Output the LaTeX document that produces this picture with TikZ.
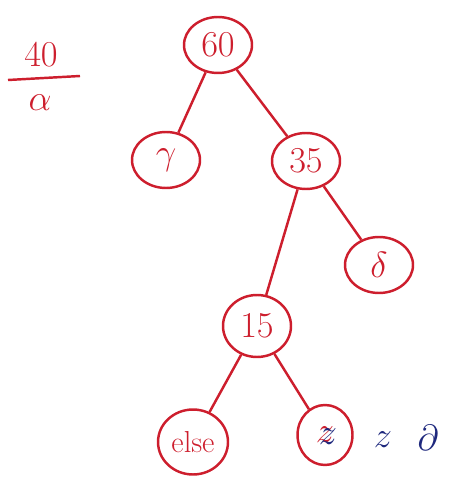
\documentclass[tikz,border=0pt]{standalone}
\usepackage{amsmath, amssymb}
\usepackage{tikz}
\usetikzlibrary{shapes.geometric}
\definecolor{penred}{RGB}{205,30,45}
\definecolor{penblue}{RGB}{30,40,125}

\begin{document}
\begin{tikzpicture}[x=0.02cm,y=-0.02cm,
    knot/.style={ellipse,draw=penred,line width=1.4pt,text=penred,minimum width=1.36cm,minimum height=1.12cm,inner sep=0pt,font=\huge},
    twig/.style={penred,line width=1.4pt}]
    \useasboundingbox (0,0) rectangle (457,496);
    % fraction at the top left
    \node[text=penred,font=\huge] (num) at (41,55) {$40$};
    \draw[twig] (8,80) -- (80,76);
    \node[text=penred,font=\huge] (den) at (40,103) {$\alpha$};
    % the tree
    \node[knot] (n60) at (218,45) {$60$};
    \node[knot] (ng) at (166,160) {$\gamma$};
    \node[knot] (n35) at (306,161) {$35$};
    \node[knot] (nd) at (379,265) {$\delta$};
    \node[knot,minimum height=1.24cm] (n15) at (257,326) {$15$};
    \node[knot,minimum width=1.4cm,minimum height=1.3cm,font=\LARGE] (nelse) at (193,442) {else};
    \node[knot,minimum width=1.1cm,minimum height=1.2cm] (nz) at (325,435) {$z$};
    \draw[twig] (n60) -- (ng);
    \draw[twig] (n60) -- (n35);
    \draw[twig] (n35) -- (nd);
    \draw[twig] (n35) -- (n15);
    \draw[twig] (n15) -- (nelse);
    \draw[twig] (n15) -- (nz);
    % blue overwrite
    \node[text=penblue,font=\huge] (zfix) at (328,437) {$z$};
    \node[text=penblue,font=\huge] (zb) at (383,440) {$z$};
    \node[text=penblue,font=\huge] (pb) at (428,438) {$\partial$};
\end{tikzpicture}
\end{document}
